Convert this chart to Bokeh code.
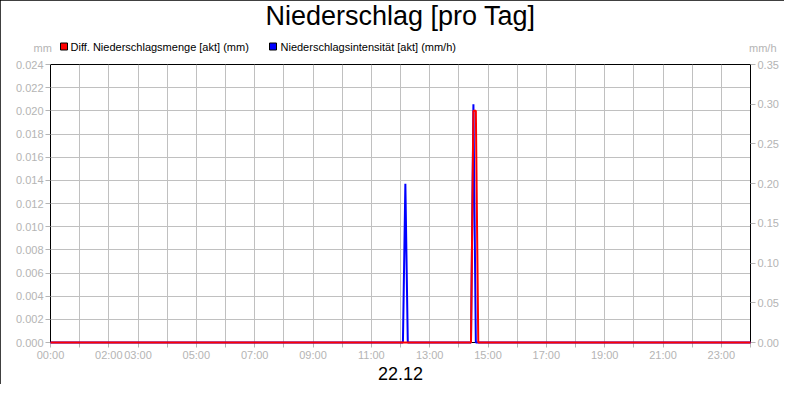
from bokeh.plotting import figure
from bokeh.models import (Range1d, LinearAxis, FixedTicker, NumeralTickFormatter, Title)
from bokeh.embed import file_html
from bokeh.resources import INLINE

# ---------------- data ----------------
title_text = "Niederschlag [pro Tag]"
date_text = "22.12"
red_name = "Diff. Niederschlagsmenge [akt] (mm)"
blue_name = "Niederschlagsintensität [akt] (mm/h)"
left_unit = "mm"
right_unit = "mm/h"
red_color = "#ff0000"
blue_color = "#0000ff"

# minutes since midnight
red_time_min = [0, 865, 870, 875, 880, 1440]
red_values_mm = [0.0, 0.0, 0.020, 0.020, 0.0, 0.0]
blue_time_min = [0, 725, 730, 735, 865, 870, 875, 1440]
blue_values_mmh = [0.0, 0.0, 0.20, 0.0, 0.0, 0.30, 0.0, 0.0]

hour_ticks = list(range(0, 1441, 60))
x_label_minutes = [0, 120, 180, 300, 420, 540, 660, 780, 900, 1020, 1140, 1260, 1380]
x_label_texts = ["00:00", "02:00", "03:00", "05:00", "07:00", "09:00", "11:00",
                 "13:00", "15:00", "17:00", "19:00", "21:00", "23:00"]
left_ticks = [0.0, 0.002, 0.004, 0.006, 0.008, 0.010, 0.012,
              0.014, 0.016, 0.018, 0.020, 0.022, 0.024]
right_ticks = [0.0, 0.05, 0.10, 0.15, 0.20, 0.25, 0.30, 0.35]

# ---------------- layout ----------------
W, H = 784, 384          # fits the 800x400 window with its 8px page margin
FL, FR, FT, FB = 50, 34, 64, 42
FONT = "Liberation Sans"
GRAY = "#b4b4b4"
H11 = 12.4   # estimated text-box height of an 11px font
H7 = 7.9
H27 = 30.5

p = figure(width=W, height=H, x_range=Range1d(0, 1440), y_range=Range1d(0, 0.024),
           output_backend="svg", toolbar_location=None,
           min_border_left=FL, min_border_right=FR,
           min_border_top=FT, min_border_bottom=FB)
p.extra_y_ranges = {"right": Range1d(0, 0.35)}
p.background_fill_color = "white"
p.border_fill_color = "white"
p.outline_line_color = "black"
p.outline_line_alpha = 1.0
p.styles = {"width": f"{W}px", "height": f"{H}px", "box-sizing": "border-box",
            "outline": "1px solid black", "outline-offset": "-1px"}

raxis = LinearAxis(y_range_name="right")
p.add_layout(raxis, "right")

p.xaxis.ticker = FixedTicker(ticks=hour_ticks)
overrides = {m: "" for m in hour_ticks}
for m, t in zip(x_label_minutes, x_label_texts):
    overrides[m] = t
p.xaxis.major_label_overrides = overrides
p.yaxis[0].ticker = FixedTicker(ticks=left_ticks)
p.yaxis[0].formatter = NumeralTickFormatter(format="0.000")
raxis.ticker = FixedTicker(ticks=right_ticks)
raxis.formatter = NumeralTickFormatter(format="0.00")

for ax in [p.xaxis[0], p.yaxis[0], raxis]:
    ax.axis_line_color = "black"
    ax.major_tick_line_color = GRAY
    ax.major_tick_out = 5
    ax.major_tick_in = 0
    ax.minor_tick_line_color = None
    ax.major_label_text_color = GRAY
    ax.major_label_text_font_size = "11px"
    ax.major_label_text_font = FONT
    ax.major_label_standoff = 2
p.xaxis.major_label_standoff = 1

p.xaxis.axis_label = date_text
p.xaxis.axis_label_text_font = FONT
p.xaxis.axis_label_text_font_size = "18px"
p.xaxis.axis_label_text_font_style = "normal"
p.xaxis.axis_label_text_color = "black"
p.xaxis.axis_label_standoff = 3

p.grid.grid_line_color = "#c0c0c0"
p.grid.grid_line_alpha = 1.0

p.line(blue_time_min, blue_values_mmh, y_range_name="right", line_color=blue_color,
       line_width=2, level="overlay")
p.line(red_time_min, red_values_mm, line_color=red_color, line_width=2, level="overlay")


def ttl(text, size, h, height, **kw):
    """Title whose panel is `height` px tall (0 = overlay at the panel boundary)."""
    base = dict(text=text, text_font=FONT, text_font_size=f"{size}px",
                text_font_style="normal", standoff=height - 2 - h)
    base.update(kw)
    return Title(**base)


# stacked from the frame (y=64) outward
p.add_layout(ttl(" ", 11, H11, 18), "above")                               # 46..64 spacer
p.add_layout(ttl(left_unit, 11, H11, 0, align="left", offset=-17,
                 text_color=GRAY), "above")
p.add_layout(ttl(right_unit, 11, H11, 0, align="right", offset=-26,
                 text_color=GRAY), "above")
p.add_layout(ttl("\u2003", 7, H7, 0, align="left", offset=10, vertical_align="middle",
                 background_fill_color=red_color, border_line_color="black"), "above")
p.add_layout(ttl(red_name, 11, H11, 0, align="left", offset=20, vertical_align="middle",
                 text_color="black"), "above")
p.add_layout(ttl("\u2003", 7, H7, 0, align="left", offset=219, vertical_align="middle",
                 background_fill_color=blue_color, border_line_color="black"), "above")
p.add_layout(ttl(blue_name, 11, H11, 0, align="left", offset=230, vertical_align="middle",
                 text_color="black"), "above")
p.add_layout(ttl(" ", 11, H11, 15), "above")                               # 31..46 spacer
p.add_layout(ttl(title_text, 27, H27, 31, align="center", vertical_align="middle",
                 text_color="black"), "above")                             # 0..31

open("out.html", "w").write(file_html(p, INLINE))
